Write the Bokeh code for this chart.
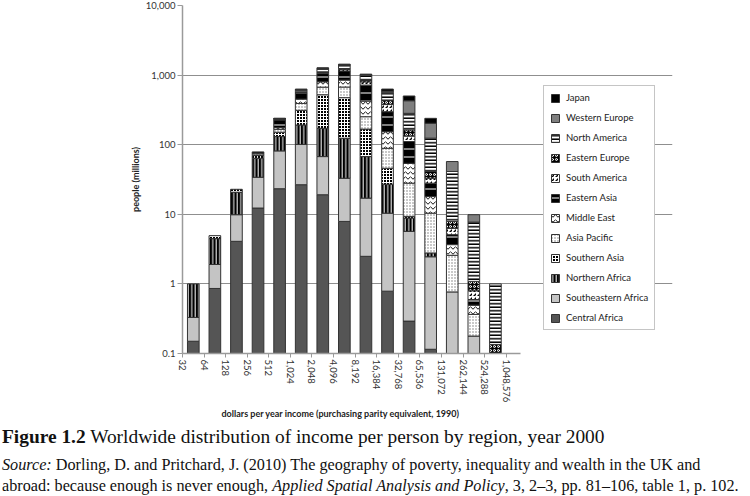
import numpy as np
from bokeh.plotting import figure
from bokeh.layouts import column
from bokeh.models import (ColumnDataSource, Range1d, FixedTicker, Legend, LegendItem, Div, Title)
from bokeh.embed import file_html
from bokeh.resources import INLINE

# ---------------- data ----------------
income_labels = ["32", "64", "128", "256", "512", "1,024", "2,048", "4,096", "8,192",
                 "16,384", "32,768", "65,536", "131,072", "262,144", "524,288", "1,048,576"]
y_tick_values = [0.1, 1, 10, 100, 1000, 10000]
y_tick_labels = ["0.1", "1", "10", "100", "1,000", "10,000"]

# people (millions) per income band (band i lies between income_labels[i] and income_labels[i+1])
central_africa      = [0.15, 0.86, 4.09, 12.3, 23.3, 26.6, 19.1, 7.9, 2.49, 0.786, 0.292, 0.115, 0.02, 0, 0]
southeastern_africa = [0.18, 1.04, 5.78, 21.8, 58.2, 74.4, 48.4, 25.1, 14.6, 9.6, 5.4, 2.34, 0.747, 0.178, 0]
northern_africa     = [0.67, 2.57, 10.9, 29.7, 49.5, 91, 104.5, 91, 50.4, 16.7, 3.14, 0.33, 0, 0, 0]
southern_asia       = [0, 0.46, 2.1, 6, 20, 120, 350, 350, 100, 18.8, 0.5, 0, 0, 0, 0]
asia_pacific        = [0, 0, 0, 4, 15, 80, 150, 200, 85, 42.9, 18.7, 7.6, 1.81, 0.186, 0]
middle_east         = [0, 0, 0, 2, 10, 60, 129, 174, 171, 65, 26, 7.6, 1.09, 0.131, 0]
eastern_asia        = [0, 0, 0, 3, 50, 100, 250, 300, 295, 144, 57, 10, 1.43, 0.102, 0]
south_america       = [0, 0, 0, 0, 6, 15, 40, 60, 80, 80, 22, 5, 1.2, 0.2, 0]
eastern_europe      = [0, 0, 0, 0, 4, 10, 23, 36, 49, 60, 30, 8.2, 1.6, 0.29, 0.135]
north_america       = [0, 0, 0, 0, 2, 30, 100, 150, 150, 120, 119, 83, 33.3, 6.64, 0.865]
western_europe      = [0, 0, 0, 0, 0.5, 13, 35, 23, 20, 31, 146, 79, 16.1, 2.14, 0]
japan               = [0, 0, 0, 0, 0.5, 10, 24, 20, 15, 41, 73, 36, 0, 0, 0]

series = [
    ("Central Africa", central_africa),
    ("Southeastern Africa", southeastern_africa),
    ("Northern Africa", northern_africa),
    ("Southern Asia", southern_asia),
    ("Asia Pacific", asia_pacific),
    ("Middle East", middle_east),
    ("Eastern Asia", eastern_asia),
    ("South America", south_america),
    ("Eastern Europe", eastern_europe),
    ("North America", north_america),
    ("Western Europe", western_europe),
    ("Japan", japan),
]

x_title = "dollars per year income (purchasing parity equivalent, 1990)"
y_title = "people (millions)"
caption_bold = "Figure 1.2"
caption_text = "Worldwide distribution of income per person by region, year 2000"
source_label = "Source:"
source_line1 = "Dorling, D. and Pritchard, J. (2010) The geography of poverty, inequality and wealth in the UK and"
source_line2a = "abroad: because enough is never enough,"
source_journal = "Applied Spatial Analysis and Policy"
source_line2b = ", 3, 2\u20133, pp. 81\u2013106, table 1, p. 102."

# ---------------- styles ----------------
styles = {
    "Central Africa":      dict(fill_color="#555555", hatch_pattern=None),
    "Southeastern Africa": dict(fill_color="#c4c4c4", hatch_pattern=None),
    "Northern Africa":     dict(fill_color="#000000", hatch_pattern="|", hatch_color="white", hatch_scale=3.5, hatch_weight=1),
    "Southern Asia":       dict(fill_color="#000000", hatch_pattern="+", hatch_color="white", hatch_scale=3, hatch_weight=1),
    "Asia Pacific":        dict(fill_color="#ffffff", hatch_pattern=".", hatch_color="#777777", hatch_scale=3, hatch_weight=1),
    "Middle East":         dict(fill_color="#ffffff", hatch_pattern="v", hatch_color="#111111", hatch_scale=5, hatch_weight=1),
    "Eastern Asia":        dict(fill_color="#000000", hatch_pattern="-", hatch_color="white", hatch_scale=8, hatch_weight=1),
    "South America":       dict(fill_color="#ffffff", hatch_pattern=",", hatch_color="#000000", hatch_scale=4, hatch_weight=1.5),
    "Eastern Europe":      dict(fill_color="#000000", hatch_pattern="o", hatch_color="white", hatch_scale=4, hatch_weight=1),
    "North America":       dict(fill_color="#ffffff", hatch_pattern="-", hatch_color="#000000", hatch_scale=3.5, hatch_weight=1.5),
    "Western Europe":      dict(fill_color="#7f7f7f", hatch_pattern=None),
    "Japan":               dict(fill_color="#000000", hatch_pattern=None),
}

W = 750
H1 = 420
FL, FT, FB = 182, 5, 353       # frame left / top / bottom in page pixels
PX_PER_BAND = 21.58            # horizontal pixels per income band
X_AXIS_END = 15.66             # axis / gridlines stop here (data units)
FR = 672                       # frame right (frame also hosts the legend)
x_end = (FR - FL) / PX_PER_BAND

p = figure(width=W, height=H1, y_axis_type="log",
           x_range=Range1d(0, x_end), y_range=Range1d(0.1, 10000),
           output_backend="svg", toolbar_location=None,
           min_border_left=FL, min_border_right=W - FR,
           min_border_top=FT, min_border_bottom=H1 - FB)
p.outline_line_color = None
p.background_fill_color = "white"
p.border_fill_color = "white"

n = len(central_africa)
xc = np.arange(n) + 0.5
cum = np.zeros(n)
renderers = {}
for name, vals in series:
    v = np.array(vals, dtype=float)
    bottom = cum.copy()
    top = cum + v
    cum = top
    b = np.where(v > 0, np.maximum(bottom, 1e-3), np.nan)
    t = np.where(v > 0, top, np.nan)
    src = ColumnDataSource(dict(x=xc, bottom=b, top=t))
    st = styles[name]
    kw = dict(fill_color=st["fill_color"], line_color="#333333", line_width=1)
    if st["hatch_pattern"]:
        kw.update(hatch_pattern=st["hatch_pattern"], hatch_color=st["hatch_color"],
                  hatch_scale=st["hatch_scale"], hatch_weight=st["hatch_weight"])
    renderers[name] = p.vbar(x="x", bottom="bottom", top="top", width=0.54, source=src, **kw)

# axes
p.xgrid.visible = False
p.ygrid.grid_line_color = "#8f8f8f"
p.ygrid.grid_line_width = 1
p.ygrid.bounds = (0, X_AXIS_END)
p.yaxis.ticker = FixedTicker(ticks=y_tick_values)
p.ygrid.ticker = FixedTicker(ticks=y_tick_values)
p.yaxis.major_label_overrides = {k: lab for k, lab in zip(y_tick_values, y_tick_labels)}
p.xaxis.ticker = FixedTicker(ticks=list(range(len(income_labels))))
p.xaxis.major_label_overrides = {i: lab for i, lab in enumerate(income_labels)}
p.xaxis.major_label_orientation = "vertical"
p.xaxis.bounds = (0, X_AXIS_END)

for ax in (p.xaxis[0], p.yaxis[0]):
    ax.axis_line_color = "#9a9a9a"
    ax.axis_line_width = 1.5
    ax.major_tick_line_color = "#9a9a9a"
    ax.major_tick_in = 0
    ax.minor_tick_line_color = None
    ax.major_label_text_font = "Lato"
    ax.major_label_text_font_size = "9.5px"
    ax.major_label_text_color = "#333333"
    ax.axis_label_text_font = "Lato"
    ax.axis_label_text_font_size = "9px"
    ax.axis_label_text_font_style = "bold"
    ax.axis_label_text_color = "#222222"

p.yaxis.major_tick_out = 5
p.yaxis.major_label_standoff = 2
p.yaxis.axis_label = y_title
p.yaxis.axis_label_standoff = 2
p.xaxis.major_tick_out = 4
p.xaxis.major_label_standoff = 2

# x-axis title centred under the bars (not under the wider frame)
p.add_layout(Title(text=x_title, align="left", offset=221 - FL, standoff=1,
                   text_font="Lato", text_font_size="9px", text_font_style="bold",
                   text_color="#222222"), "below")

# legend inside the (widened) frame, to the right of the bars
items = [LegendItem(label=name, renderers=[renderers[name]]) for name, _ in reversed(series)]
legend = Legend(items=items, location=(543 - FL, FB - 330), orientation="vertical",
                border_line_color="#8c8c8c", border_line_width=1,
                background_fill_color="white", background_fill_alpha=1,
                label_text_font="Lato", label_text_font_size="9.5px", label_text_color="#222222",
                glyph_width=10, glyph_height=10, label_height=10, label_standoff=6,
                spacing=9, padding=6, margin=0)
p.add_layout(legend)

# caption & source as real HTML text below the chart
H2 = 496 - H1
line = "position:absolute;left:2px;white-space:nowrap;line-height:1;"
html = (
    f'<div style="position:relative;width:{W}px;height:{H2}px;font-family:\'Liberation Serif\',serif;color:#111;">'
    f'<div style="{line}top:7px;font-size:19.4px;"><b>{caption_bold}</b> {caption_text}</div>'
    f'<div style="{line}top:37px;font-size:16.2px;"><i>{source_label}</i> {source_line1}</div>'
    f'<div style="{line}top:58px;font-size:16.2px;">{source_line2a} <i>{source_journal}</i>{source_line2b}</div>'
    '</div>'
)
cap = Div(text=html, width=W, height=H2, margin=0)

layout = column(p, cap, spacing=0)
open("out.html", "w").write(file_html(layout, INLINE))
